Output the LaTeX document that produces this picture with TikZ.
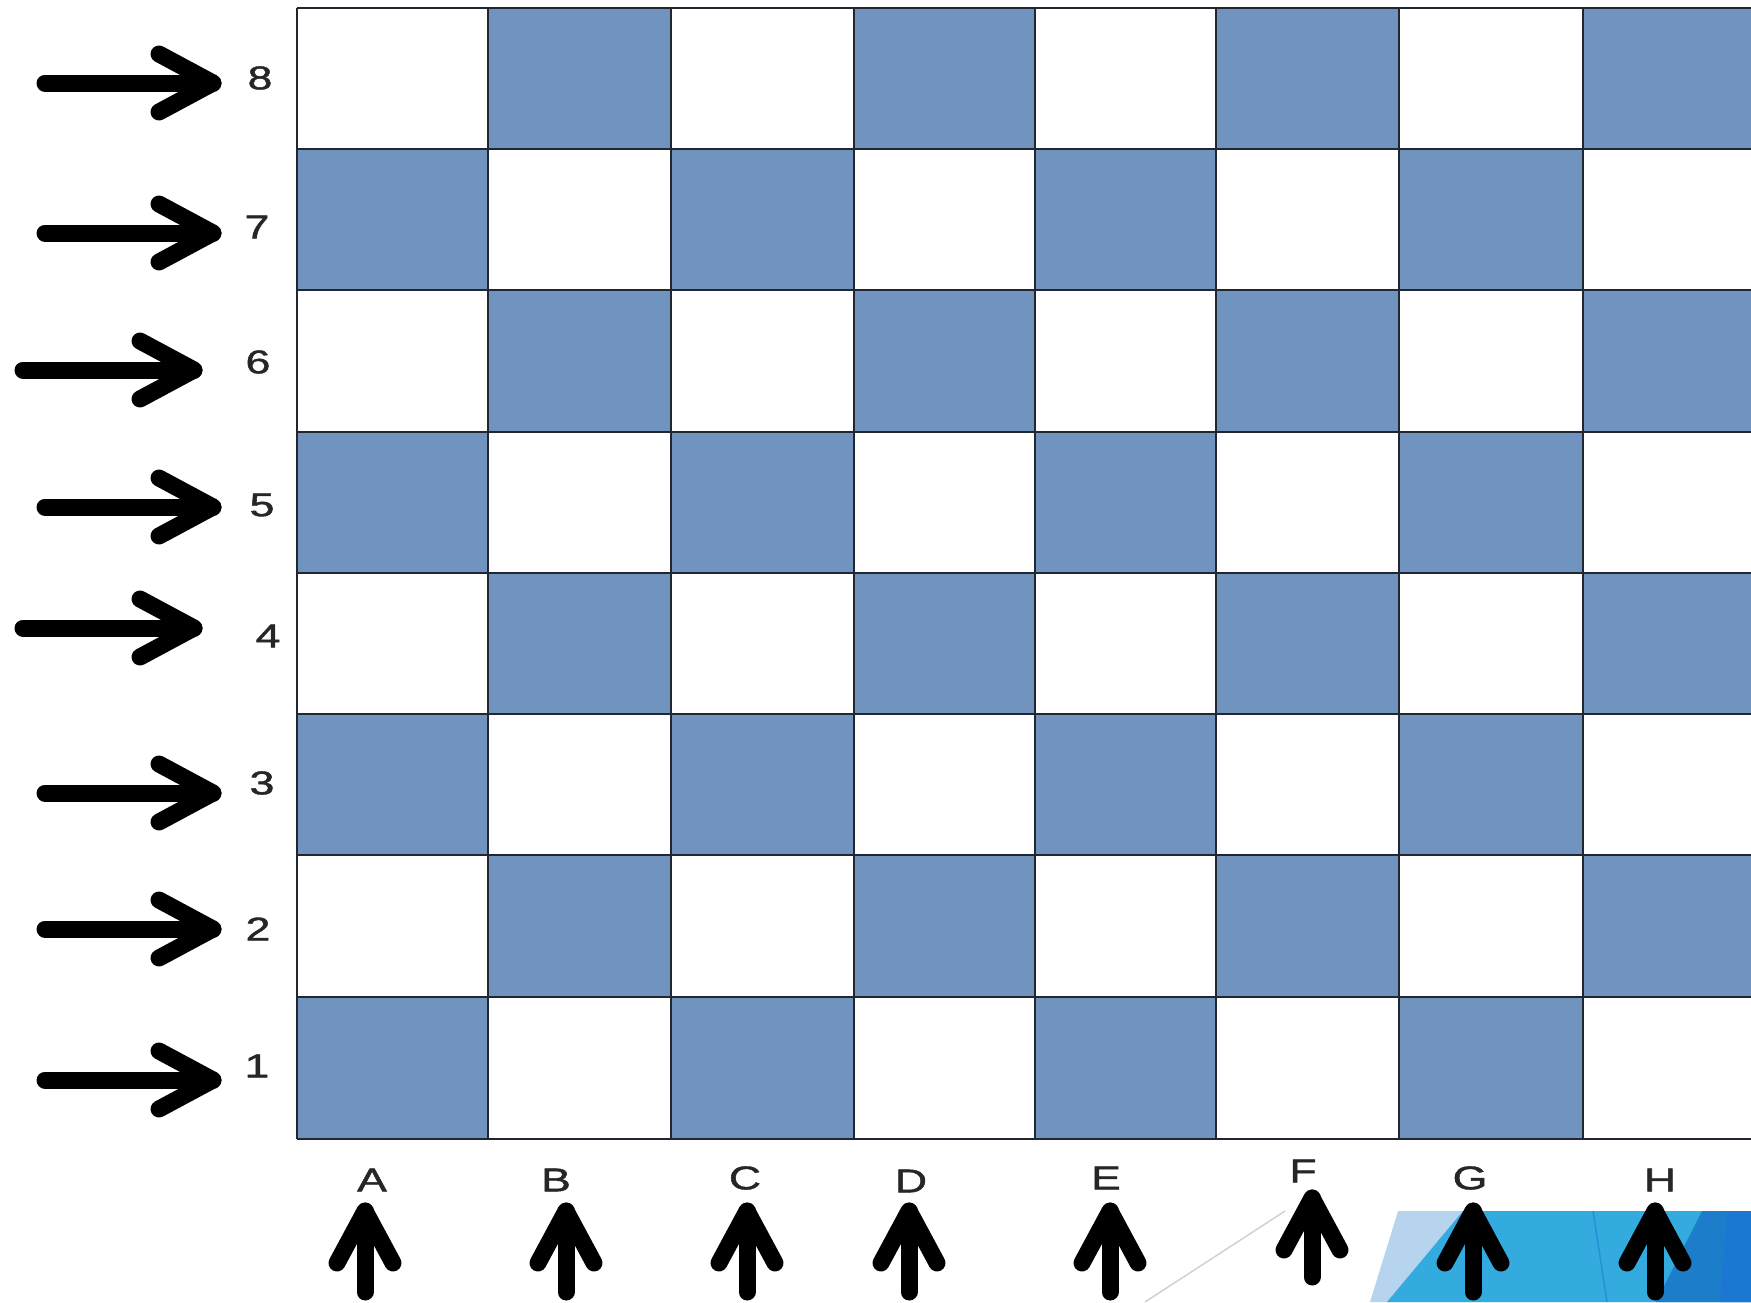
\documentclass[tikz,border=0pt]{standalone}
\usepackage{fontspec}
\setmainfont{Liberation Sans}
\newfontfamily\lblfont{Liberation Sans}[FakeBold=1.2]
\definecolor{sq}{HTML}{7093BF}
\definecolor{lb}{HTML}{B7D4EE}
\definecolor{mb}{HTML}{33ABDF}
\definecolor{db}{HTML}{1C7ECB}
\definecolor{ddb}{HTML}{1B77D1}
\definecolor{gridc}{HTML}{222630}
\newcommand{\wide}[1]{\scalebox{1.35}[1]{#1}}
\tikzset{
  lbl/.style={inner sep=0pt, font=\lblfont\fontsize{33}{33}\selectfont, text=black!85},
  arr/.style={line width=17pt, line cap=round, line join=round, black},
}
\begin{document}
\begin{tikzpicture}[x=1pt,y=-1pt]
\useasboundingbox (0,0) rectangle (1751,1302);
\clip (0,0) rectangle (1751,1302);
% board
\def\xs{{297,488,671,854,1035,1216,1399,1583,1790}}
\def\ys{{8,149,290,432,573,714,855,997,1139}}
\foreach \c in {0,...,7}{
  \foreach \r in {0,...,7}{
    \pgfmathsetmacro{\xa}{\xs[\c]}
    \pgfmathsetmacro{\xb}{\xs[\c+1]}
    \pgfmathsetmacro{\ya}{\ys[\r]}
    \pgfmathsetmacro{\yb}{\ys[\r+1]}
    \pgfmathtruncatemacro{\myparity}{mod(\c+\r,2)}
    \ifnum\myparity=1
      \fill[sq] (\xa,\ya) rectangle (\xb,\yb);
    \fi
  }
}
\foreach \x in {297,488,671,854,1035,1216,1399,1583}
  \draw[gridc, line width=2pt] (\x,8) -- (\x,1139);
\foreach \y in {8,149,290,432,573,714,855,997,1139}
  \draw[gridc, line width=2pt] (297,\y) -- (1751,\y);
% decorative band
\fill[lb] (1398,1211) -- (1751,1211) -- (1751,1302) -- (1370,1302) -- cycle;
\fill[mb] (1463,1211) -- (1751,1211) -- (1751,1302) -- (1387,1302) -- cycle;
\draw[db!60!mb, line width=1.5pt] (1593,1211) -- (1607,1302);
\fill[db] (1702,1211) -- (1751,1211) -- (1751,1302) -- (1656,1302) -- cycle;
\fill[ddb] (1727,1211) -- (1751,1211) -- (1751,1302) -- (1720,1302) -- cycle;
\coordinate (ga) at (1285,1211);
\coordinate (gb) at (1145,1302);
\draw[black!18, line width=1.5pt] (ga) -- (gb);
% rank labels
\node[lbl] (r8) at (260,78) {\wide{8}};
\node[lbl] (r7) at (257,227) {\wide{7}};
\node[lbl] (r6) at (258,362) {\wide{6}};
\node[lbl] (r5) at (262,505) {\wide{5}};
\node[lbl] (r4) at (268,636) {\wide{4}};
\node[lbl] (r3) at (262,783) {\wide{3}};
\node[lbl] (r2) at (258,929) {\wide{2}};
\node[lbl] (r1) at (257,1066) {\wide{1}};
% file labels
\node[lbl] (fA) at (372,1180) {\wide{A}};
\node[lbl] (fB) at (556,1180) {\wide{B}};
\node[lbl] (fC) at (745,1178) {\wide{C}};
\node[lbl] (fD) at (911,1181) {\wide{D}};
\node[lbl] (fE) at (1106,1178) {\wide{E}};
\node[lbl] (fF) at (1303,1171) {\wide{F}};
\node[lbl] (fG) at (1470,1178) {\wide{G}};
\node[lbl] (fH) at (1660,1180) {\wide{H}};
% right-pointing arrows
\foreach \n/\y/\s/\t in {8/83/45/213, 7/233/45/213, 6/370/23/194, 5/507/45/213, 4/628/23/194, 3/793/45/213, 2/929/45/213, 1/1080/45/213}{
  \coordinate (rs\n) at (\s,\y);
  \coordinate (rt\n) at (\t,\y);
  \draw[arr] (rs\n) -- (rt\n);
  \draw[arr] ([shift={(-54,-29)}]rt\n) -- (rt\n) -- ([shift={(-54,29)}]rt\n);
}
% up-pointing arrows
\foreach \n/\x/\t/\b in {A/365/1211/1292, B/566/1211/1292, C/747/1211/1292, D/909/1211/1292, E/1110/1211/1292, F/1312/1198/1277, G/1473/1211/1292, H/1655/1211/1292}{
  \coordinate (ub\n) at (\x,\b);
  \coordinate (ut\n) at (\x,\t);
  \draw[arr] (ub\n) -- (ut\n);
  \draw[arr] ([shift={(-28,52)}]ut\n) -- (ut\n) -- ([shift={(28,52)}]ut\n);
}
\end{tikzpicture}
\end{document}
